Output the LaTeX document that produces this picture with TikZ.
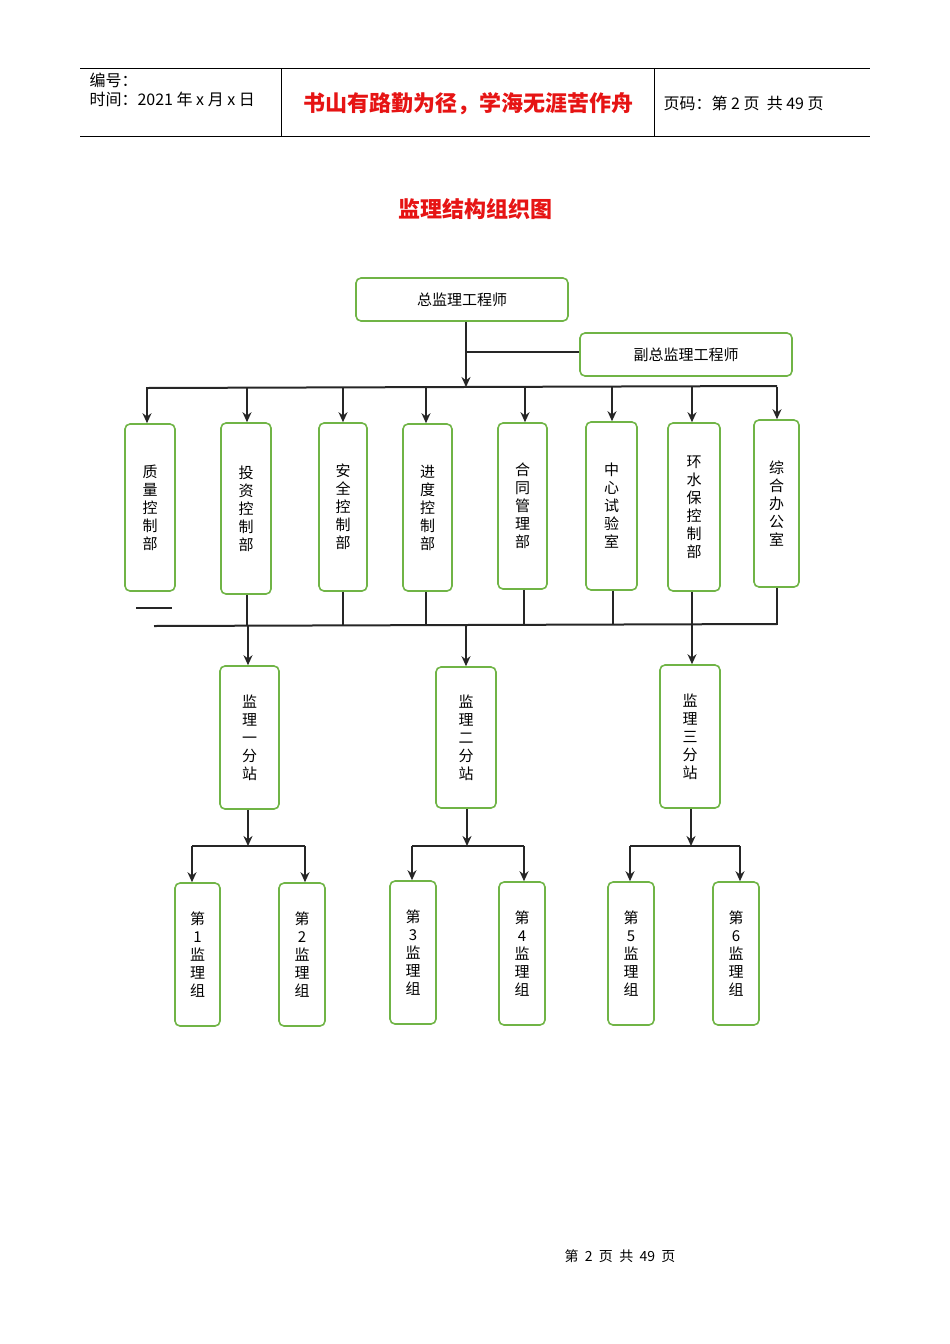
\documentclass[tikz,border=0pt]{standalone}
\usepackage{fontspec}
\setmainfont{Liberation Sans}
\newfontfamily\cjk{Noto Sans CJK SC}
\usetikzlibrary{arrows.meta}
\definecolor{gbox}{RGB}{112,180,70}
\definecolor{tred}{RGB}{230,20,20}
\tikzset{
 bx/.style={draw=gbox,line width=1.6pt,rounded corners=5pt,inner sep=0pt,font=\cjk\fontsize{15}{18}\selectfont,align=center},
 arr/.style={line width=2pt,draw=black!85,-{Stealth[length=10pt,width=9pt]}},
 ln/.style={line width=2pt,draw=black!85},
}
\newcommand{\gbx}[6]{\node[bx,minimum width=#4pt,minimum height=#5pt] (#1) at (#2,#3) {#6};}
\begin{document}
\begin{tikzpicture}[x=1pt,y=-1pt]
\useasboundingbox (0,0) rectangle (950,1344);
% header
\draw[line width=0.8pt] (80,68) -- (870,68) (80,136) -- (870,136) (281,68) -- (281,136) (654,68) -- (654,136);
\node[anchor=west,font=\cjk\fontsize{16}{18}\selectfont] (h1) at (86,80) {编号：};
\node[anchor=west,font=\cjk\fontsize{16}{18}\selectfont] (h2) at (86,99) {时间：2021 年 x 月 x 日};
\node[font=\cjk\bfseries\fontsize{22}{26}\selectfont,text=tred] (h3) at (468,104) {书山有路勤为径，学海无涯苦作舟};
\node[anchor=west,font=\cjk\fontsize{16}{18}\selectfont] (h4) at (660,103) {页码：第 2 页\ \ 共 49 页};
\node[font=\cjk\bfseries\fontsize{22}{26}\selectfont,text=tred] (title) at (475,209) {监理结构组织图};
\node[font=\cjk\fontsize{14}{16}\selectfont] (foot) at (620,1256) {第\ \ 2\ \ 页\ \ 共\ \ 49\ \ 页};
% top boxes
\gbx{top}{462}{299.5}{212}{43}{总监理工程师}
\gbx{vice}{686}{354.5}{212}{43}{副总监理工程师}
% departments
\gbx{d1}{150}{507.5}{50}{167}{质\\量\\控\\制\\部}
\gbx{d2}{246}{508.5}{50}{171}{投\\资\\控\\制\\部}
\gbx{d3}{343}{507}{48}{168}{安\\全\\控\\制\\部}
\gbx{d4}{427.5}{507.5}{49}{167}{进\\度\\控\\制\\部}
\gbx{d5}{522.5}{506}{49}{166}{合\\同\\管\\理\\部}
\gbx{d6}{611.5}{506}{51}{168}{中\\心\\试\\验\\室}
\gbx{d7}{694}{507}{52}{168}{环\\水\\保\\控\\制\\部}
\gbx{d8}{776.5}{503.5}{45}{167}{综\\合\\办\\公\\室}
% stations
\gbx{s1}{249.5}{737.5}{59}{143}{监\\理\\一\\分\\站}
\gbx{s2}{466}{737.5}{60}{141}{监\\理\\二\\分\\站}
\gbx{s3}{690}{736.5}{60}{143}{监\\理\\三\\分\\站}
% groups
\gbx{g1}{197.5}{954.5}{45}{143}{第\\1\\监\\理\\组}
\gbx{g2}{302}{954.5}{46}{143}{第\\2\\监\\理\\组}
\gbx{g3}{413}{952.5}{46}{143}{第\\3\\监\\理\\组}
\gbx{g4}{522}{953.5}{46}{143}{第\\4\\监\\理\\组}
\gbx{g5}{631}{953.5}{46}{143}{第\\5\\监\\理\\组}
\gbx{g6}{736}{953.5}{46}{143}{第\\6\\监\\理\\组}
% top connectors
\coordinate (tj) at (466,387);
\draw[arr] (top.south -| tj) -- (tj);
\draw[ln] (466,352) -- (vice.west |- 0,352);
\draw[ln] (147,388) -- (777,386);
\foreach \d/\x in {d1/147,d2/247,d3/343,d4/426,d5/525,d6/612,d7/692,d8/777}
  \draw[arr] (\x,387) -- (\x,0 |- \d.north);
% bottom bus
\draw[ln] (154,626) -- (777,624);
\draw[ln] (136,608) -- (172,608);
\foreach \d/\x in {d2/247,d3/343,d4/426,d5/524,d6/613,d7/692,d8/777}
  \draw[ln] (\x,0 |- \d.south) -- (\x,625);
\foreach \s/\x in {s1/248,s2/466,s3/692}
  \draw[arr] (\x,625) -- (\x,0 |- \s.north);
% group buses
\foreach \s/\x/\a/\b/\ga/\gb in {s1/248/192/305/g1/g2,s2/467/412/524/g3/g4,s3/691/630/740/g5/g6}{
  \draw[arr] (\x,0 |- \s.south) -- (\x,846);
  \draw[ln] (\a,846) -- (\b,846);
  \draw[arr] (\a,846) -- (\a,0 |- \ga.north);
  \draw[arr] (\b,846) -- (\b,0 |- \gb.north);
}
\end{tikzpicture}
\end{document}
